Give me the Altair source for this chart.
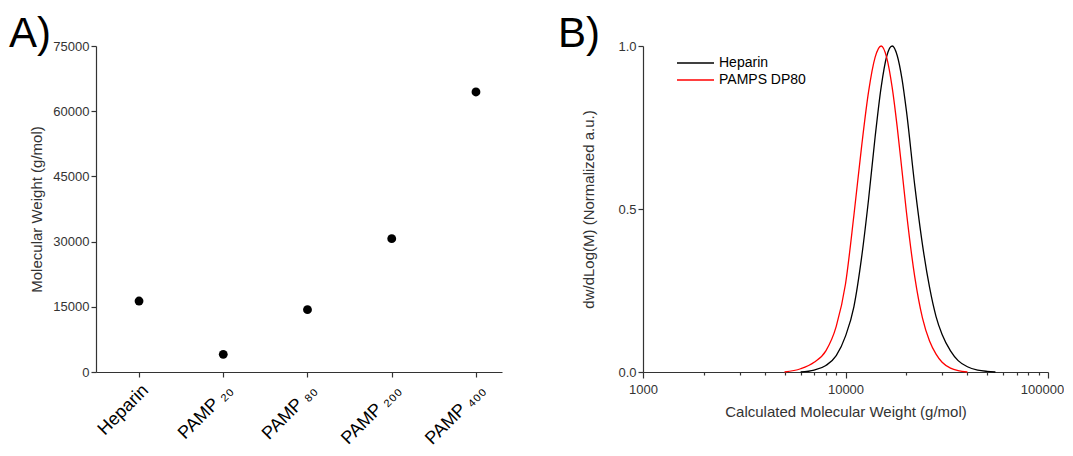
import altair as alt
import pandas as pd

# ---------------- Panel A data ----------------
categories = ["Heparin", "PAMP ₂₀", "PAMP ₈₀", "PAMP ₂₀₀", "PAMP ₄₀₀"]
mw_values = [16330, 4060, 14340, 30680, 64420]
a_y_ticks = [0, 15000, 30000, 45000, 60000, 75000]

# ---------------- Panel B data ----------------
heparin_mw = [6000, 7000, 8000, 9000, 10000, 11000, 12000, 13000, 14000, 15000, 16000,
              17000, 18000, 19000, 20000, 22000, 24000, 26000, 28000, 30000, 33000,
              36000, 40000, 45000, 50000, 55000]
heparin_y = [0.0, 0.006, 0.02, 0.05, 0.11, 0.2, 0.35, 0.53, 0.72, 0.874, 0.97,
             1.0, 0.971, 0.9, 0.8, 0.57, 0.39, 0.26, 0.17, 0.115, 0.065,
             0.035, 0.016, 0.006, 0.002, 0.0]
pamps_mw = [5000, 6000, 7000, 8000, 9000, 10000, 11000, 12000, 13000, 14000, 15000,
            16000, 17000, 18000, 19000, 20000, 22000, 24000, 26000, 28000, 30000,
            33000, 36000, 40000]
pamps_y = [0.0, 0.01, 0.03, 0.065, 0.14, 0.27, 0.48, 0.69, 0.86, 0.965, 1.0,
           0.963, 0.873, 0.752, 0.619, 0.49, 0.29, 0.165, 0.095, 0.055, 0.03,
           0.012, 0.004, 0.0]
series_names = ["Heparin", "PAMPS DP80"]
series_colors = ["#000000", "#ff0000"]
b_x_major = [1000, 10000, 100000]
b_x_minor = [2000, 3000, 4000, 5000, 6000, 7000, 8000, 9000,
             20000, 30000, 40000, 50000, 60000, 70000, 80000, 90000]
b_y_ticks = [0.0, 0.5, 1.0]
panel_letters = ["A)", "B)"]

FONT = "Liberation Sans"
AX = "#333333"

df_a = pd.DataFrame({"sample": categories, "mw": mw_values})

rows = []
for m, v in zip(heparin_mw, heparin_y):
    rows.append({"series": series_names[0], "mw": m, "val": v})
for m, v in zip(pamps_mw, pamps_y):
    rows.append({"series": series_names[1], "mw": m, "val": v})
df_b = pd.DataFrame(rows)


def letter(txt, dx):
    return alt.Chart(pd.DataFrame({"t": [txt]})).mark_text(
        fontSize=42, font=FONT, color="black", align="left", baseline="alphabetic"
    ).encode(text="t:N", x=alt.value(dx), y=alt.value(1))


points_a = alt.Chart(df_a).mark_circle(size=78, color="black", opacity=1).encode(
    x=alt.X("sample:N", sort=categories,
            scale=alt.Scale(type="point", padding=0.41, align=0.623),
            axis=alt.Axis(title=None, labelAngle=-45, labelFontSize=18,
                          labelColor="black", tickSize=5, labelPadding=4)),
    y=alt.Y("mw:Q", scale=alt.Scale(domain=[0, 75000], nice=False),
            axis=alt.Axis(values=a_y_ticks, format="d", title="Molecular Weight (g/mol)",
                          tickSize=5, labelFontSize=13, titleFontSize=15, titlePadding=8)),
)
panel_a = alt.layer(points_a, letter(panel_letters[0], -87)).properties(width=406, height=326)

all_ticks = sorted(b_x_major + b_x_minor)
major_test = "datum.value == 1000 || datum.value == 10000 || datum.value == 100000"
lines_b = alt.Chart(df_b).mark_line(strokeWidth=1.3, interpolate="monotone").encode(
    x=alt.X("mw:Q", scale=alt.Scale(type="log", domain=[1000, 100000], nice=False),
            axis=alt.Axis(values=all_ticks, title="Calculated Molecular Weight (g/mol)",
                          labelExpr="(" + major_test + ") ? format(datum.value, 'd') : ''",
                          tickSize={"condition": {"test": major_test, "value": 6}, "value": 3},
                          labelOffset={"condition": {"test": "datum.value == 100000", "value": -6}, "value": 0},
                          labelFlush=False, labelPadding=5, labelFontSize=13,
                          titleFontSize=15, titlePadding=8)),
    y=alt.Y("val:Q", scale=alt.Scale(domain=[0, 1], nice=False),
            axis=alt.Axis(values=b_y_ticks, format=".1f", title="dw/dLog(M) (Normalized a.u.)",
                          tickSize=5, labelFontSize=13, titleFontSize=15, titlePadding=21)),
    color=alt.Color("series:N", scale=alt.Scale(domain=series_names, range=series_colors),
                    legend=alt.Legend(title=None, orient="none", legendX=580, legendY=10,
                                      symbolType="stroke", symbolSize=1369, symbolStrokeWidth=1.3,
                                      labelFontSize=14, labelColor="black", labelOffset=4,
                                      clipHeight=14, rowPadding=3, labelFont=FONT)),
)
panel_b = alt.layer(lines_b, letter(panel_letters[1], -85)).properties(width=405, height=326)

chart = alt.hconcat(panel_a, panel_b, spacing=56).properties(
    padding={"left": 1, "top": 5, "right": 0, "bottom": 5}
).configure_view(stroke=None).configure_axis(
    grid=False, domainColor=AX, tickColor=AX, labelColor=AX, titleColor=AX,
    labelFont=FONT, titleFont=FONT, titleFontWeight="normal", domainWidth=1.2, tickWidth=1.2
)

chart.save("out.html", embed_options={"renderer": "svg", "actions": False})
